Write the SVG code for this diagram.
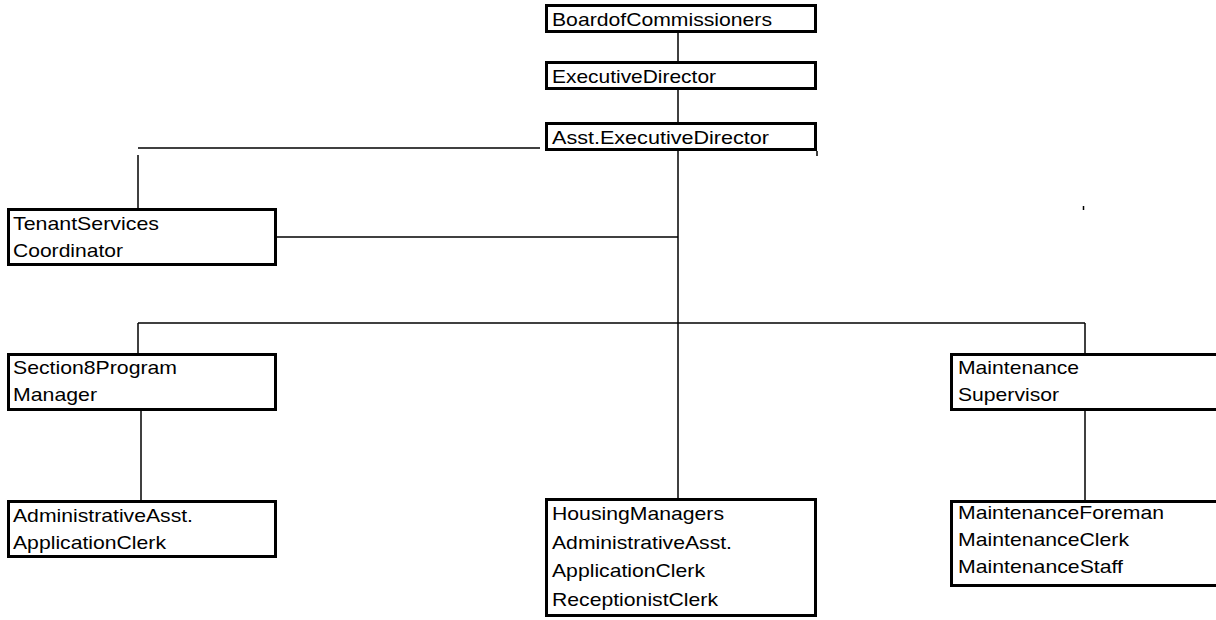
<svg xmlns="http://www.w3.org/2000/svg" width="1216" height="620" viewBox="0 0 1216 620">
<style>
.box{fill:#fff;stroke:#000;stroke-width:3}
.ln{stroke:#000;stroke-width:1.5;fill:none}
text{font-family:"Liberation Sans",Arial,sans-serif;font-size:19px;fill:#000}
</style>
<rect width="1216" height="620" fill="#fff"/>
<g id="connectors">
<line class="ln" x1="678" y1="33" x2="678" y2="61"/>
<line class="ln" x1="678" y1="90" x2="678" y2="122"/>
<line class="ln" x1="678" y1="151" x2="678" y2="498"/>
<line class="ln" x1="817" y1="151" x2="817" y2="156"/>
<line class="ln" x1="138" y1="148" x2="540" y2="148"/>
<line class="ln" x1="138" y1="155" x2="138" y2="208"/>
<line class="ln" x1="277" y1="237" x2="678" y2="237"/>
<line class="ln" x1="138" y1="323" x2="1085" y2="323"/>
<line class="ln" x1="138" y1="323" x2="138" y2="353"/>
<line class="ln" x1="1085" y1="323" x2="1085" y2="353"/>
<line class="ln" x1="141" y1="411" x2="141" y2="500"/>
<line class="ln" x1="1085" y1="411" x2="1085" y2="500"/>
<line class="ln" x1="1083.5" y1="206" x2="1083.5" y2="210"/>
</g>
<g id="board">
<rect class="box" x="546.5" y="5.5" width="269" height="26"/>
<text x="552" y="26" textLength="220" lengthAdjust="spacingAndGlyphs">BoardofCommissioners</text>
</g>
<g id="exec">
<rect class="box" x="546.5" y="62.5" width="269" height="26"/>
<text x="552" y="83" textLength="164" lengthAdjust="spacingAndGlyphs">ExecutiveDirector</text>
</g>
<g id="asst">
<rect class="box" x="546.5" y="123.5" width="269" height="26"/>
<text x="552" y="144" textLength="217" lengthAdjust="spacingAndGlyphs">Asst.ExecutiveDirector</text>
</g>
<g id="tenant">
<rect class="box" x="8.5" y="209.5" width="267" height="55"/>
<text x="13" y="230" textLength="146" lengthAdjust="spacingAndGlyphs">TenantServices</text>
<text x="13" y="257" textLength="110" lengthAdjust="spacingAndGlyphs">Coordinator</text>
</g>
<g id="section8">
<rect class="box" x="8.5" y="354.5" width="267" height="55"/>
<text x="13" y="374" textLength="164" lengthAdjust="spacingAndGlyphs">Section8Program</text>
<text x="13" y="401" textLength="84" lengthAdjust="spacingAndGlyphs">Manager</text>
</g>
<g id="maintsup">
<rect class="box" x="951.5" y="354.5" width="280" height="55"/>
<text x="958" y="374" textLength="121" lengthAdjust="spacingAndGlyphs">Maintenance</text>
<text x="958" y="401" textLength="101" lengthAdjust="spacingAndGlyphs">Supervisor</text>
</g>
<g id="s8staff">
<rect class="box" x="8.5" y="501.5" width="267" height="55"/>
<text x="13" y="522" textLength="180" lengthAdjust="spacingAndGlyphs">AdministrativeAsst.</text>
<text x="13" y="549" textLength="153" lengthAdjust="spacingAndGlyphs">ApplicationClerk</text>
</g>
<g id="housing">
<rect class="box" x="546.5" y="499.5" width="269" height="116"/>
<text x="552" y="520" textLength="172" lengthAdjust="spacingAndGlyphs">HousingManagers</text>
<text x="552" y="548.5" textLength="180" lengthAdjust="spacingAndGlyphs">AdministrativeAsst.</text>
<text x="552" y="577" textLength="153" lengthAdjust="spacingAndGlyphs">ApplicationClerk</text>
<text x="552" y="605.5" textLength="166" lengthAdjust="spacingAndGlyphs">ReceptionistClerk</text>
</g>
<g id="maintstaff">
<rect class="box" x="951.5" y="501.5" width="280" height="84"/>
<text x="958" y="519" textLength="206" lengthAdjust="spacingAndGlyphs">MaintenanceForeman</text>
<text x="958" y="546" textLength="171" lengthAdjust="spacingAndGlyphs">MaintenanceClerk</text>
<text x="958" y="573" textLength="165" lengthAdjust="spacingAndGlyphs">MaintenanceStaff</text>
</g>
</svg>
